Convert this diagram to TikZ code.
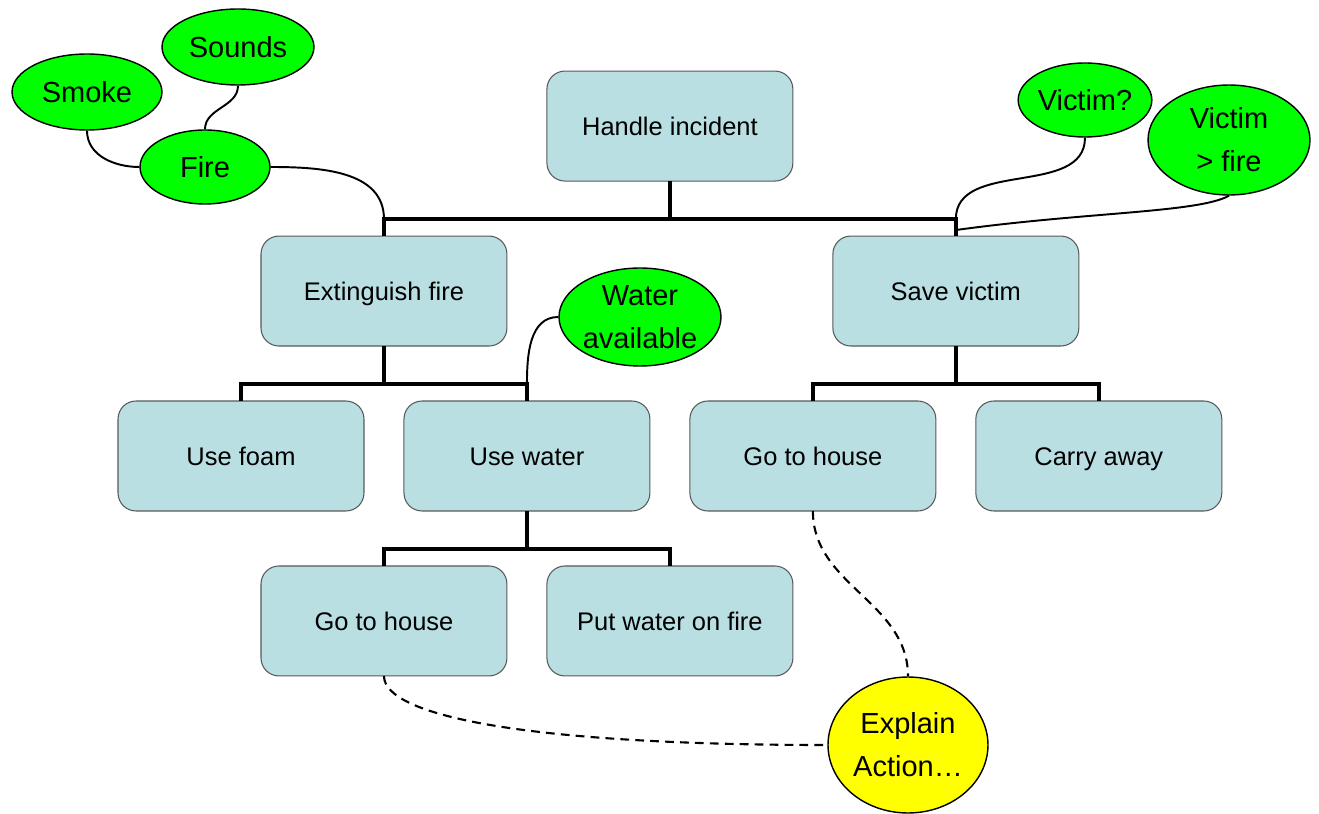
\documentclass[tikz,border=0pt]{standalone}
\usepackage{fontspec}
\setmainfont{Liberation Sans}
\usetikzlibrary{positioning,shapes.geometric,calc}

\definecolor{taskblue}{RGB}{185,223,227}
\definecolor{condgreen}{RGB}{0,255,0}
\definecolor{noteyellow}{RGB}{255,255,0}

\begin{document}
\begin{tikzpicture}[%
    x=0.02cm, y=0.02cm,
    node distance=1.1cm and 0.8cm,
    task/.style={draw=black!65, fill=taskblue, rounded corners=0.36cm,
      minimum width=4.92cm, minimum height=2.2cm, inner sep=0pt, outer sep=0pt,
      text height=10.5pt, text depth=0pt,
      line width=0.6pt, font=\fontsize{14.5}{17}\selectfont},
    cond/.style={ellipse, draw, fill=condgreen, inner sep=0pt, line width=0.8pt,
      align=center, font=\fontsize{16.5}{24.5}\selectfont},
    tree/.style={line width=2.1pt},
    link/.style={line width=1.1pt},
    note/.style={line width=1.2pt, dash pattern=on 5pt off 3.5pt},
  ]
    \useasboundingbox (0,0) rectangle (1319,-814);

    \node[task] (foam) at (241,-456) {Use foam};
    \node[task] (water)   [right=of foam]    {Use water};
    \node[task] (house)   [right=of water]   {Go to house};
    \node[task] (carry)   [right=of house]   {Carry away};
    \node[task] (ext)     [above=of $(foam.north)!0.5!(water.north)$] {Extinguish fire};
    \node[task] (save)    [above=of $(house.north)!0.5!(carry.north)$] {Save victim};
    \node[task] (handle)  [above=of $(ext.north)!0.5!(save.north)$]    {Handle incident};
    \node[task] (house2)  [below=of $(foam.south)!0.5!(water.south)$]  {Go to house};
    \node[task] (pour)    [right=of house2]  {Put water on fire};

    \node[cond, minimum width=3cm, minimum height=1.52cm]    (smoke)  at (87,-92)   {Smoke};
    \node[cond, minimum width=3.04cm, minimum height=1.52cm] (sounds) at (238,-47)  {Sounds};
    \node[cond, minimum width=2.6cm, minimum height=1.48cm]  (fire)   at (205,-167) {Fire};
    \node[cond, minimum width=2.64cm, minimum height=1.48cm] (victq)  at (1085,-100) {Victim?};
    \node[cond, minimum width=3.24cm, minimum height=2.2cm]  (victf)  at (1229,-140) {Victim\\> fire};
    \node[cond, minimum width=3.24cm, minimum height=1.96cm] (wavail) at (640,-317) {Water\\available};
    \node[cond, fill=noteyellow, minimum width=3.2cm, minimum height=2.72cm] (explain) at (908,-745) {Explain\\Action…};

    % tree bars
    \coordinate (b1) at ($(ext.north)+(0,17)$);
    \coordinate (b2) at ($(foam.north)+(0,17)$);
    \coordinate (b3) at ($(house.north)+(0,17)$);
    \coordinate (b4) at ($(house2.north)+(0,17)$);
    \coordinate (wtop) at (water.north |- b2);

    \draw[tree] (ext.north) -- (b1) -| (save.north);
    \draw[tree] (handle.south) -- (handle.south |- b1);
    \draw[tree] (foam.north) -- (b2) -| (water.north);
    \draw[tree] (ext.south) -- (ext.south |- b2);
    \draw[tree] (house.north) -- (b3) -| (carry.north);
    \draw[tree] (save.south) -- (save.south |- b3);
    \draw[tree] (house2.north) -- (b4) -| (pour.north);
    \draw[tree] (water.south) -- (water.south |- b4);

    \path[link]
    (smoke.south) edge[out=-90,in=180] (fire.west)
    (sounds.south) edge[out=-90,in=90] (fire.north)
    (fire.east) edge[out=0,in=90] (b1)
    (victq.south) edge[out=-90,in=90] (save.north |- b1)
    (wavail.west) edge[out=180,in=90] (wtop)
    ;
    \draw[link] (victf.south) .. controls +(-30,-17) and +(130,18) .. ($(save.north)+(0,6)$);

    \draw[note] (house.south) to[out=-90,in=90] (explain.north);
    \draw[note] (house2.south) .. controls +(0,-40) and +(-300,0) .. (explain.west);
  \end{tikzpicture}
\end{document}
